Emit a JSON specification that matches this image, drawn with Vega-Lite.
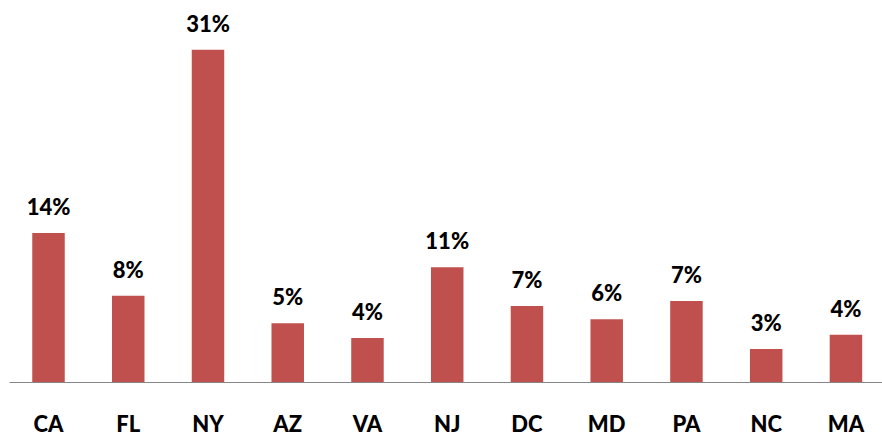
{
  "$schema": "https://vega.github.io/schema/vega-lite/v6.json",
  "width": 873,
  "height": 375,
  "autosize": {"type": "none"},
  "padding": {"left": 9, "top": 7, "right": 0, "bottom": 53},
  "background": "white",
  "config": {"view": {"stroke": null}},
  "data": {
    "values": [
      {"state": "CA", "share": 0.139, "label": "14%"},
      {"state": "FL", "share": 0.0805, "label": "8%"},
      {"state": "NY", "share": 0.31, "label": "31%"},
      {"state": "AZ", "share": 0.0548, "label": "5%"},
      {"state": "VA", "share": 0.041, "label": "4%"},
      {"state": "NJ", "share": 0.107, "label": "11%"},
      {"state": "DC", "share": 0.071, "label": "7%"},
      {"state": "MD", "share": 0.0585, "label": "6%"},
      {"state": "PA", "share": 0.0756, "label": "7%"},
      {"state": "NC", "share": 0.0308, "label": "3%"},
      {"state": "MA", "share": 0.044, "label": "4%"}
    ]
  },
  "encoding": {
    "x": {
      "field": "state",
      "type": "nominal",
      "sort": null,
      "scale": {"paddingInner": 0.5925, "paddingOuter": 0.27, "align": 0.54},
      "axis": {
        "title": null,
        "ticks": false,
        "labelAngle": 0,
        "labelFont": "Lato",
        "labelFontWeight": 900,
        "labelFontSize": 22,
        "labelColor": "black",
        "labelBaseline": "alphabetic",
        "labelPadding": 49,
        "domainColor": "#868686",
        "domainWidth": 1
      }
    },
    "y": {
      "field": "share",
      "type": "quantitative",
      "scale": {"domain": [0, 0.35], "nice": false},
      "axis": null
    }
  },
  "layer": [
    {"mark": {"type": "bar", "color": "#C0504D"}},
    {
      "mark": {
        "type": "text",
        "baseline": "alphabetic",
        "dy": -18,
        "font": "Lato",
        "fontWeight": 900,
        "fontSize": 22,
        "color": "black"
      },
      "encoding": {"text": {"field": "label"}}
    }
  ]
}
